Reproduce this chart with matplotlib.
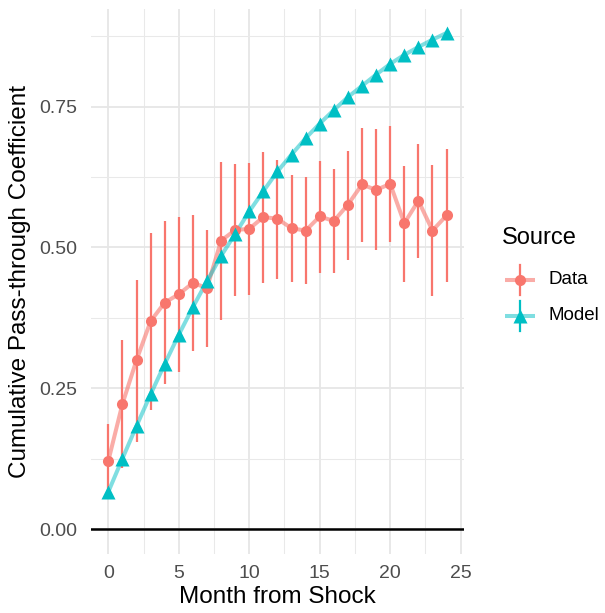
import matplotlib
matplotlib.use("Agg")
import matplotlib.pyplot as plt
from matplotlib.ticker import MultipleLocator

plt.rcParams['font.family'] = ['Liberation Sans', 'DejaVu Sans']

# values
months = list(range(25))
data_est = [0.121, 0.222, 0.300, 0.369, 0.402, 0.417, 0.437, 0.428, 0.512, 0.531,
            0.533, 0.554, 0.551, 0.534, 0.530, 0.555, 0.547, 0.576, 0.612, 0.602,
            0.613, 0.543, 0.583, 0.530, 0.557]
data_hi = [0.186, 0.336, 0.443, 0.526, 0.547, 0.554, 0.557, 0.531, 0.652, 0.648,
           0.650, 0.670, 0.656, 0.629, 0.625, 0.654, 0.639, 0.672, 0.713, 0.710,
           0.715, 0.645, 0.684, 0.647, 0.674]
data_lo = [0.056, 0.108, 0.155, 0.212, 0.258, 0.279, 0.316, 0.323, 0.372, 0.414,
           0.416, 0.437, 0.444, 0.439, 0.436, 0.455, 0.454, 0.478, 0.510, 0.496,
           0.510, 0.439, 0.482, 0.413, 0.439]
model_est = [0.066, 0.125, 0.183, 0.239, 0.293, 0.345, 0.394, 0.440, 0.485, 0.524,
             0.564, 0.600, 0.635, 0.665, 0.694, 0.720, 0.744, 0.767, 0.787, 0.807,
             0.826, 0.842, 0.856, 0.869, 0.881]

sources = ["Data", "Model"]
colors = {"Data": "#F8766D", "Model": "#00BFC4"}
markers = {"Data": "o", "Model": "^"}
msizes = {"Data": 8.0, "Model": 9.8}

W, H = 605, 613
fig = plt.figure(figsize=(W / 100, H / 100), dpi=100)

def px_axes(x0, y0, x1, y1):
    return fig.add_axes([x0 / W, 1 - y1 / H, (x1 - x0) / W, (y1 - y0) / H])

ax = px_axes(91.4, 8.7, 463.5, 553.8)
ax.set_xlim(-1.2, 25.2)
ax.set_ylim(-0.044, 0.924)

for s in ax.spines.values():
    s.set_visible(False)
ax.xaxis.set_major_locator(MultipleLocator(5))
ax.xaxis.set_minor_locator(MultipleLocator(2.5))
ax.yaxis.set_major_locator(MultipleLocator(0.25))
ax.yaxis.set_minor_locator(MultipleLocator(0.125))
ax.grid(which='major', color='#E6E6E6', lw=1.3)
ax.grid(which='minor', color='#E9E9E9', lw=0.75)
ax.set_axisbelow(True)
ax.tick_params(which='both', length=0)
ax.tick_params(axis='y', pad=10, labelsize=14, labelcolor='#4D4D4D')
ax.tick_params(axis='x', pad=8, labelsize=14, labelcolor='#4D4D4D')
ax.set_yticks([0, 0.25, 0.5, 0.75])
ax.set_yticklabels(["0.00", "0.25", "0.50", "0.75"])

ax.axhline(0, color='black', lw=1.8, zorder=2)

ax.plot(months, data_est, color=colors["Data"], lw=2.9, alpha=0.6, zorder=3,
        solid_capstyle='butt')
ax.plot(months, model_est, color=colors["Model"], lw=2.9, alpha=0.5, zorder=3,
        solid_capstyle='butt')
ax.vlines(months, data_lo, data_hi, color=colors["Data"], lw=1.6, zorder=4)
ax.plot(months, data_est, ls='none', marker='o', ms=msizes["Data"],
        color=colors["Data"], mec='none', zorder=5)
ax.plot(months, model_est, ls='none', marker='^', ms=msizes["Model"],
        color=colors["Model"], mec='none', zorder=5)

ax.set_xlabel("Month from Shock", fontsize=17.5, labelpad=3)
ax.set_ylabel("Cumulative Pass-through Coefficient", fontsize=17.5, labelpad=6)

# legend drawn by hand in pixel coordinates
lax = px_axes(490, 220, 605, 340)
lax.set_xlim(490, 605)
lax.set_ylim(340, 220)
lax.axis('off')
lax.text(501.5, 238, "Source", fontsize=17, va='center', ha='left')
for src, ky in zip(sources, [280, 316]):
    c = colors[src]
    lax.plot([505, 535], [ky, ky], color=c, lw=2.9, alpha=0.6 if src == "Data" else 0.5,
             solid_capstyle='butt')
    lax.plot([520, 520], [ky - 15, ky + 15], color=c, lw=1.6)
    lax.plot([520], [ky], marker=markers[src], ms=msizes[src], color=c, mec='none')
    lax.text(549, ky, src, fontsize=13.5, va='center', ha='left')

fig.savefig("out.png", dpi=100)
